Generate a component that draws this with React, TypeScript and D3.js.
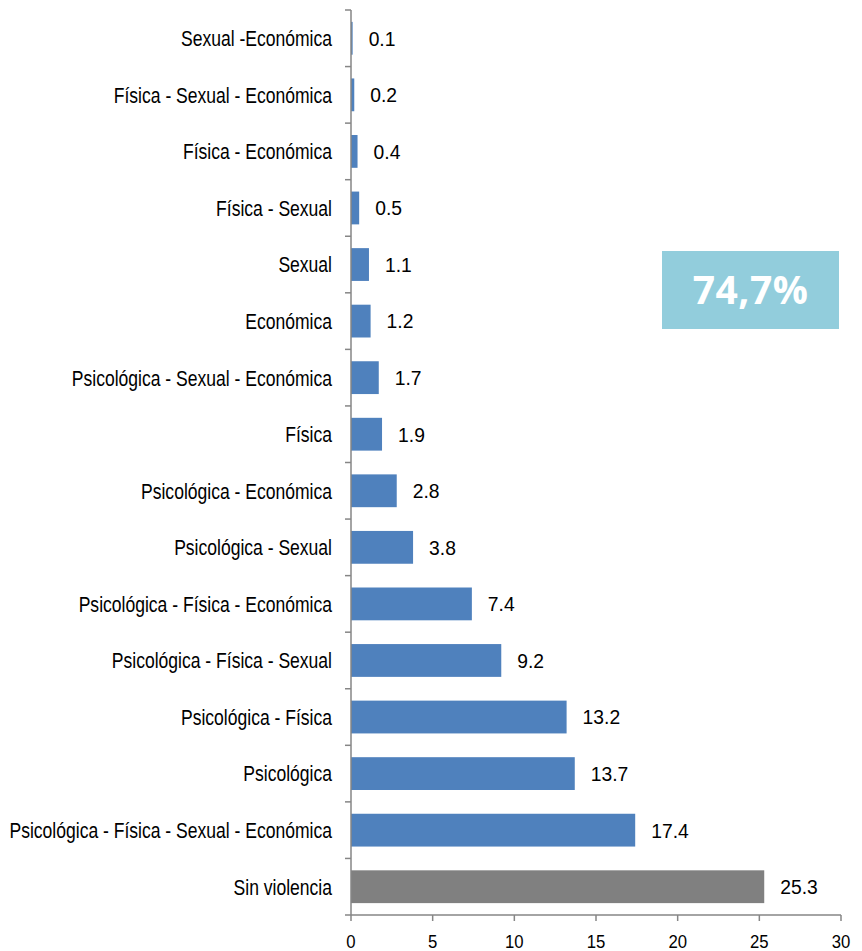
import { useEffect, useRef } from "react";
import * as d3 from "d3";

const categories = [
  "Sexual -Económica",
  "Física - Sexual - Económica",
  "Física - Económica",
  "Física - Sexual",
  "Sexual",
  "Económica",
  "Psicológica - Sexual - Económica",
  "Física",
  "Psicológica - Económica",
  "Psicológica - Sexual",
  "Psicológica - Física - Económica",
  "Psicológica - Física - Sexual",
  "Psicológica - Física",
  "Psicológica",
  "Psicológica - Física - Sexual - Económica",
  "Sin violencia",
];
const values = [0.1, 0.2, 0.4, 0.5, 1.1, 1.2, 1.7, 1.9, 2.8, 3.8, 7.4, 9.2, 13.2, 13.7, 17.4, 25.3];
const xTicks = [0, 5, 10, 15, 20, 25, 30];
const totalLabel = "74,7%";

const width = 862;
const height = 951;
const ORIGIN = { x: 351, y: 10 };
const plotW = 490;
const plotH = 905;

// narrow Arial look: Liberation Sans squeezed horizontally
const FONT = "'Liberation Sans', Arial, sans-serif";

function App() {
  const svgRef = useRef(null);

  useEffect(() => {
    const svg = d3.select(svgRef.current);
    svg.selectAll("*").remove();

    const x = d3.scaleLinear().domain([0, 30]).range([0, plotW]);
    const y = d3.scaleBand().domain(categories).range([0, plotH]).paddingInner(0.42).paddingOuter(0.21);

    const g = svg.append("g").attr("transform", `translate(${ORIGIN.x},${ORIGIN.y})`);

    // bars
    g.selectAll("rect.bar")
      .data(values)
      .join("rect")
      .attr("class", "bar")
      .attr("x", 0)
      .attr("y", (d, i) => y(categories[i]))
      .attr("width", d => x(d))
      .attr("height", y.bandwidth())
      .attr("fill", (d, i) => (categories[i] === "Sin violencia" ? "#808080" : "#4F81BD"));

    // value labels
    g.selectAll("text.val")
      .data(values)
      .join("text")
      .attr("class", "val")
      .attr("transform", (d, i) => `translate(${x(d) + 16},${y(categories[i]) + y.bandwidth() / 2}) scale(0.92,1)`)
      .attr("dy", "0.35em")
      .style("font-family", FONT)
      .style("font-size", "21px")
      .attr("fill", "#000")
      .text(d => d.toFixed(1));

    // category labels
    g.selectAll("text.cat")
      .data(categories)
      .join("text")
      .attr("class", "cat")
      .attr("transform", d => `translate(-19,${y(d) + y.bandwidth() / 2}) scale(0.78,1)`)
      .attr("dy", "0.35em")
      .attr("text-anchor", "end")
      .style("font-family", FONT)
      .style("font-size", "22.5px")
      .attr("fill", "#000")
      .text(d => d);

    const axisColor = "#868686";
    // y axis line + ticks at band boundaries
    g.append("line")
      .attr("x1", 0).attr("x2", 0)
      .attr("y1", 0).attr("y2", plotH)
      .attr("stroke", axisColor).attr("stroke-width", 1.5);
    const step = y.step();
    g.selectAll("line.ytick")
      .data(d3.range(categories.length + 1))
      .join("line")
      .attr("class", "ytick")
      .attr("x1", -6).attr("x2", 0)
      .attr("y1", i => i * step).attr("y2", i => i * step)
      .attr("stroke", axisColor).attr("stroke-width", 1.5);

    // x axis
    g.append("line")
      .attr("x1", 0).attr("x2", x(30))
      .attr("y1", plotH).attr("y2", plotH)
      .attr("stroke", axisColor).attr("stroke-width", 1.5);
    g.selectAll("line.xtick")
      .data(xTicks)
      .join("line")
      .attr("class", "xtick")
      .attr("x1", d => x(d)).attr("x2", d => x(d))
      .attr("y1", plotH).attr("y2", plotH + 6)
      .attr("stroke", axisColor).attr("stroke-width", 1.5);
    g.selectAll("text.xlab")
      .data(xTicks)
      .join("text")
      .attr("class", "xlab")
      .attr("transform", d => `translate(${x(d)},${plotH + 33}) scale(0.88,1)`)
      .attr("text-anchor", "middle")
      .style("font-family", FONT)
      .style("font-size", "19px")
      .attr("fill", "#000")
      .text(d => d);

    // highlight box
    svg.append("rect")
      .attr("x", 662).attr("y", 251)
      .attr("width", 177).attr("height", 78)
      .attr("fill", "#92CDDC");
    svg.append("text")
      .attr("x", 750.5).attr("y", 290)
      .attr("dy", "0.35em")
      .attr("text-anchor", "middle")
      .style("font-family", "'Open Sans', Lato, sans-serif")
      .style("font-weight", "bold")
      .style("font-size", "39px")
      .style("letter-spacing", "0.5px")
      .attr("fill", "#fff")
      .text(totalLabel);
  }, []);

  return (
    <div style={{ position: "absolute", left: 0, top: 0 }}>
      <svg width={width} height={height} ref={svgRef} style={{ display: "block", background: "#fff" }} />
    </div>
  );
}

export default App;
